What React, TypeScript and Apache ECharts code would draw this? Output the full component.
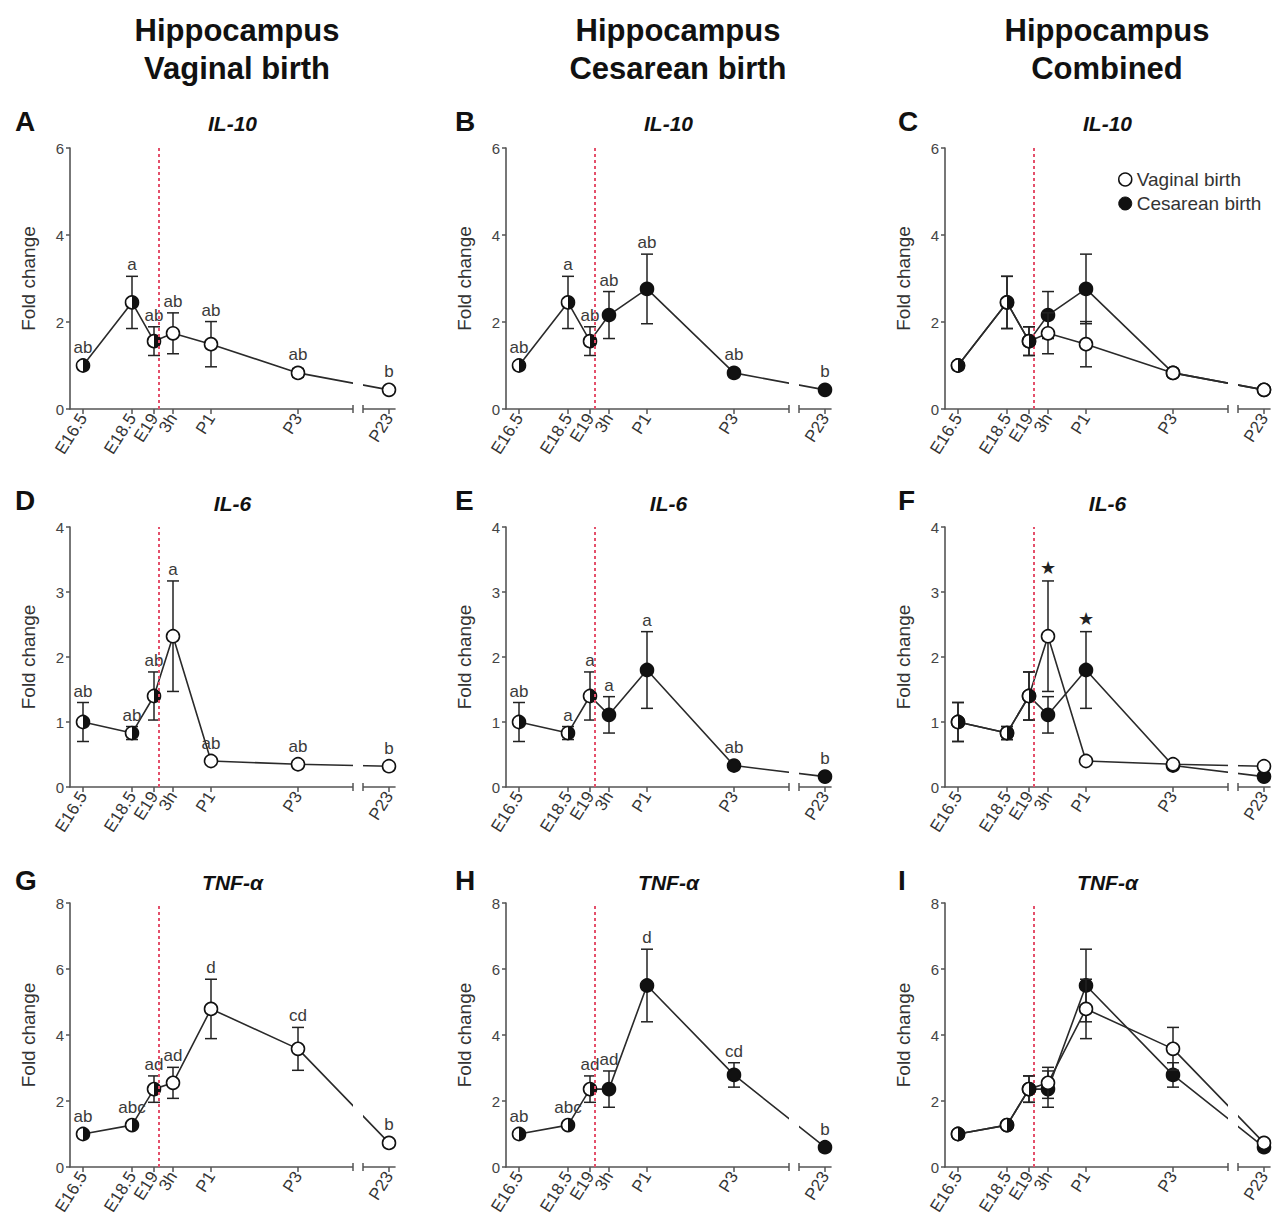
import React, { useEffect, useRef } from "react";
import * as echarts from "echarts";

// ---------- categories / axis ----------
const timeLabels = ["E16.5", "E18.5", "E19", "3h", "P1", "P3", "P23"];
// position of each time point along the (broken, non-linear) time axis, in axis units
const timeAxisPos = [13, 62, 84, 103, 141, 228, 319];
const timeAxisMax = 325;
const birthPos = 89; // red dashed line (birth)
const breakRange = [283, 293]; // axis break between P3 and P23
const prenatalShared = [true, true, true, false, false, false, false];

const genes = ["IL-10", "IL-6", "TNF-α"];
const yMaxes = [6, 4, 8];
const yIntervals = [2, 1, 2];

const columnTitles = [
  ["Hippocampus", "Vaginal birth"],
  ["Hippocampus", "Cesarean birth"],
  ["Hippocampus", "Combined"],
];
const panelLetters = [
  ["A", "B", "C"],
  ["D", "E", "F"],
  ["G", "H", "I"],
];

// ---------- values (mean fold change, SEM) ----------
const vaginalIL10 = [1.0, 2.45, 1.56, 1.74, 1.49, 0.83, 0.44];
const vaginalIL10Err = [0.08, 0.6, 0.33, 0.47, 0.52, 0.1, 0.05];
const cesareanIL10 = [1.0, 2.45, 1.56, 2.16, 2.76, 0.83, 0.44];
const cesareanIL10Err = [0.08, 0.6, 0.33, 0.54, 0.8, 0.08, 0.05];

const vaginalIL6 = [1.0, 0.83, 1.4, 2.32, 0.4, 0.35, 0.32];
const vaginalIL6Err = [0.3, 0.1, 0.37, 0.85, 0.05, 0.04, 0.05];
const cesareanIL6 = [1.0, 0.83, 1.4, 1.11, 1.8, 0.33, 0.16];
const cesareanIL6Err = [0.3, 0.1, 0.37, 0.28, 0.59, 0.04, 0.03];

const vaginalTNF = [1.0, 1.27, 2.36, 2.55, 4.79, 3.58, 0.73];
const vaginalTNFErr = [0.08, 0.1, 0.4, 0.47, 0.9, 0.65, 0.08];
const cesareanTNF = [1.0, 1.27, 2.36, 2.36, 5.5, 2.79, 0.6];
const cesareanTNFErr = [0.08, 0.1, 0.4, 0.55, 1.1, 0.37, 0.06];

// ---------- significance letters ----------
const vaginalIL10Letters = ["ab", "a", "ab", "ab", "ab", "ab", "b"];
const cesareanIL10Letters = ["ab", "a", "ab", "ab", "ab", "ab", "b"];
const vaginalIL6Letters = ["ab", "ab", "ab", "a", "ab", "ab", "b"];
const cesareanIL6Letters = ["ab", "a", "a", "a", "a", "ab", "b"];
const vaginalTNFLetters = ["ab", "abc", "ad", "ad", "d", "cd", "b"];
const cesareanTNFLetters = ["ab", "abc", "ad", "ad", "d", "cd", "b"];
const combinedIL10Stars = ["", "", "", "", "", "", ""];
const combinedIL6Stars = ["", "", "", "★", "★", "", ""];
const combinedTNFStars = ["", "", "", "", "", "", ""];

const geneData = [
  {
    v: vaginalIL10, ve: vaginalIL10Err, c: cesareanIL10, ce: cesareanIL10Err,
    vl: vaginalIL10Letters, cl: cesareanIL10Letters, stars: combinedIL10Stars,
  },
  {
    v: vaginalIL6, ve: vaginalIL6Err, c: cesareanIL6, ce: cesareanIL6Err,
    vl: vaginalIL6Letters, cl: cesareanIL6Letters, stars: combinedIL6Stars,
  },
  {
    v: vaginalTNF, ve: vaginalTNFErr, c: cesareanTNF, ce: cesareanTNFErr,
    vl: vaginalTNFLetters, cl: cesareanTNFLetters, stars: combinedTNFStars,
  },
];

// ---------- layout ----------
const FONT = "'Liberation Sans', Arial, Helvetica, sans-serif";
const colLeft = [70, 506, 945];
const rowTop = [148, 527, 903];
const rowHeight = [261, 260, 264];
const plotWidth = 325;
const headerX = [237, 678, 1107];
const letterX = [15, 455, 898];
const letterY = [121, 500, 880];
const geneTitleY = [123, 503, 882];
const INK = "#222";
const AXIS = "#555";
const R = 6.5;

function markerSeries(
  i: number,
  vals: number[],
  errs: number[],
  filled: boolean,
  letters: string[] | null,
  z: number
) {
  return {
    type: "custom",
    xAxisIndex: i,
    yAxisIndex: i,
    z,
    silent: true,
    encode: { x: 0, y: 1 },
    data: timeAxisPos.map((x, k) => [x, vals[k], errs[k]]),
    renderItem: (params: any, api: any) => {
      const k = params.dataIndex;
      const x = api.value(0);
      const y = api.value(1);
      const e = api.value(2);
      const p = api.coord([x, y]);
      const hi = api.coord([x, y + e]);
      const lo = api.coord([x, Math.max(0, y - e)]);
      const children: any[] = [
        { type: "line", shape: { x1: p[0], y1: hi[1], x2: p[0], y2: lo[1] }, style: { stroke: INK, lineWidth: 1.5 } },
        { type: "line", shape: { x1: p[0] - 6, y1: hi[1], x2: p[0] + 6, y2: hi[1] }, style: { stroke: INK, lineWidth: 1.5 } },
        { type: "line", shape: { x1: p[0] - 6, y1: lo[1], x2: p[0] + 6, y2: lo[1] }, style: { stroke: INK, lineWidth: 1.5 } },
      ];
      const half = prenatalShared[k];
      children.push({
        type: "circle",
        shape: { cx: p[0], cy: p[1], r: R },
        style: { fill: !half && filled ? "#111" : "#fff", stroke: "#111", lineWidth: 1.6 },
      });
      if (half) {
        children.push({
          type: "sector",
          shape: { cx: p[0], cy: p[1], r0: 0, r: R, startAngle: -Math.PI / 2, endAngle: Math.PI / 2, clockwise: true },
          style: { fill: "#111" },
        });
      }
      if (letters && letters[k]) {
        children.push({
          type: "text",
          x: p[0],
          y: Math.min(hi[1], p[1] - R) - 3,
          style: {
            text: letters[k],
            fill: "#3a3a3a",
            fontSize: 17,
            fontFamily: FONT,
            align: "center",
            verticalAlign: "bottom",
          },
        });
      }
      return { type: "group", children };
    },
  };
}

function buildOption() {
  const grid: any[] = [];
  const xAxis: any[] = [];
  const yAxis: any[] = [];
  const series: any[] = [];
  const graphic: any[] = [];

  for (let c = 0; c < 3; c++) {
    graphic.push({
      type: "text",
      x: headerX[c],
      y: 30,
      style: { text: columnTitles[c][0], font: `bold 31px ${FONT}`, fill: "#111", align: "center", verticalAlign: "middle" },
    });
    graphic.push({
      type: "text",
      x: headerX[c],
      y: 68,
      style: { text: columnTitles[c][1], font: `bold 31px ${FONT}`, fill: "#111", align: "center", verticalAlign: "middle" },
    });
  }

  for (let r = 0; r < 3; r++) {
    const g = geneData[r];
    for (let c = 0; c < 3; c++) {
      const i = r * 3 + c;
      grid.push({ left: colLeft[c], top: rowTop[r], width: plotWidth, height: rowHeight[r] });
      xAxis.push({
        type: "value",
        gridIndex: i,
        min: 0,
        max: timeAxisMax,
        splitLine: { show: false },
        axisLine: { show: true, lineStyle: { color: AXIS, width: 1.6 } },
        axisTick: { show: true, customValues: timeAxisPos, length: 5, lineStyle: { color: AXIS, width: 1.5 } },
        axisLabel: {
          show: true,
          customValues: timeAxisPos,
          formatter: (v: number) => timeLabels[timeAxisPos.indexOf(v)] ?? "",
          rotate: 58,
          margin: 6,
          fontSize: 17,
          color: "#333",
          fontFamily: FONT,
        },
      });
      yAxis.push({
        type: "value",
        gridIndex: i,
        min: 0,
        max: yMaxes[r],
        interval: yIntervals[r],
        splitLine: { show: false },
        axisLine: { show: true, lineStyle: { color: AXIS, width: 1.6 } },
        axisTick: { show: true, length: 4, lineStyle: { color: AXIS, width: 1.5 } },
        axisLabel: { fontSize: 15, color: "#444", margin: 6, fontFamily: FONT },
        name: "Fold change",
        nameLocation: "middle",
        nameGap: 32,
        nameTextStyle: { fontSize: 19, color: "#333", fontFamily: FONT },
      });

      const groups: ("v" | "c")[] = c === 0 ? ["v"] : c === 1 ? ["c"] : ["c", "v"];
      groups.forEach((grp, gi) => {
        const vals = grp === "v" ? g.v : g.c;
        const s: any = {
          type: "line",
          xAxisIndex: i,
          yAxisIndex: i,
          data: timeAxisPos.map((x, k) => [x, vals[k]]),
          symbol: "none",
          lineStyle: { color: "#2a2a2a", width: 1.6 },
          itemStyle: { color: grp === "v" ? "#fff" : "#111", borderColor: "#111", borderWidth: 1.5 },
          z: 2,
          silent: true,
        };
        if (c === 2) s.name = grp === "v" ? "Vaginal birth" : "Cesarean birth";
        if (gi === 0) {
          s.markLine = {
            symbol: "none",
            silent: true,
            label: { show: false },
            lineStyle: { color: "#e4506b", type: [3, 3], width: 2 },
            data: [{ xAxis: birthPos }],
          };
        }
        series.push(s);
      });

      // axis break mask
      const ymax = yMaxes[r];
      series.push({
        type: "custom",
        xAxisIndex: i,
        yAxisIndex: i,
        z: 3,
        silent: true,
        data: [[breakRange[0], 0]],
        renderItem: (_p: any, api: any) => {
          const a = api.coord([breakRange[0], 0]);
          const b = api.coord([breakRange[1], 0]);
          const t = api.coord([breakRange[0], ymax]);
          return {
            type: "group",
            children: [
              { type: "rect", shape: { x: a[0], y: t[1] - 2, width: b[0] - a[0], height: a[1] - t[1] + 5 }, style: { fill: "#fff" } },
              { type: "line", shape: { x1: a[0], y1: a[1] - 4, x2: a[0], y2: a[1] + 4 }, style: { stroke: AXIS, lineWidth: 1.5 } },
              { type: "line", shape: { x1: b[0], y1: a[1] - 4, x2: b[0], y2: a[1] + 4 }, style: { stroke: AXIS, lineWidth: 1.5 } },
            ],
          };
        },
      });

      groups.forEach((grp, gi) => {
        const vals = grp === "v" ? g.v : g.c;
        const errs = grp === "v" ? g.ve : g.ce;
        const letters = c === 2 ? null : grp === "v" ? g.vl : g.cl;
        series.push(markerSeries(i, vals, errs, grp === "c", letters, 4 + gi));
      });

      if (c === 2 && g.stars.some((s) => s)) {
        series.push({
          type: "custom",
          xAxisIndex: i,
          yAxisIndex: i,
          z: 6,
          silent: true,
          encode: { x: 0, y: 1 },
          data: timeAxisPos.map((x, k) => [x, Math.max(g.v[k] + g.ve[k], g.c[k] + g.ce[k])]),
          renderItem: (params: any, api: any) => {
            const k = params.dataIndex;
            if (!g.stars[k]) return { type: "group", children: [] };
            const p = api.coord([api.value(0), api.value(1)]);
            return {
              type: "text",
              x: p[0],
              y: p[1] - 4,
              style: { text: g.stars[k], fill: "#222", fontSize: 18, fontFamily: "DejaVu Sans", align: "center", verticalAlign: "bottom" },
            };
          },
        });
      }

      graphic.push({
        type: "text",
        x: letterX[c],
        y: letterY[r],
        style: { text: panelLetters[r][c], font: `bold 28px ${FONT}`, fill: "#111", align: "left", verticalAlign: "middle" },
      });
      graphic.push({
        type: "text",
        x: colLeft[c] + plotWidth / 2,
        y: geneTitleY[r],
        style: { text: genes[r], font: `italic bold 21px ${FONT}`, fill: "#111", align: "center", verticalAlign: "middle" },
      });
    }
  }

  return {
    animation: false,
    backgroundColor: "#fff",
    textStyle: { fontFamily: FONT },
    grid,
    xAxis,
    yAxis,
    series,
    graphic,
    legend: {
      show: true,
      orient: "vertical",
      left: 1113,
      top: 165,
      itemWidth: 13,
      itemHeight: 13,
      itemGap: 5,
      selectedMode: false,
      textStyle: { fontSize: 19, color: "#333", fontFamily: FONT },
      data: [
        { name: "Vaginal birth", icon: "circle", itemStyle: { color: "#fff", borderColor: "#111", borderWidth: 1.5 } },
        { name: "Cesarean birth", icon: "circle", itemStyle: { color: "#111", borderColor: "#111", borderWidth: 1 } },
      ],
    },
  };
}

export default function App() {
  const ref = useRef<HTMLDivElement>(null);
  useEffect(() => {
    if (!ref.current) return;
    const chart = echarts.init(ref.current, null, { renderer: "svg" });
    chart.setOption(buildOption() as any);
    return () => chart.dispose();
  }, []);
  return (
    <div
      ref={ref}
      style={{ position: "absolute", left: 0, top: 0, width: 1274, height: 1226, background: "#fff" }}
    />
  );
}
